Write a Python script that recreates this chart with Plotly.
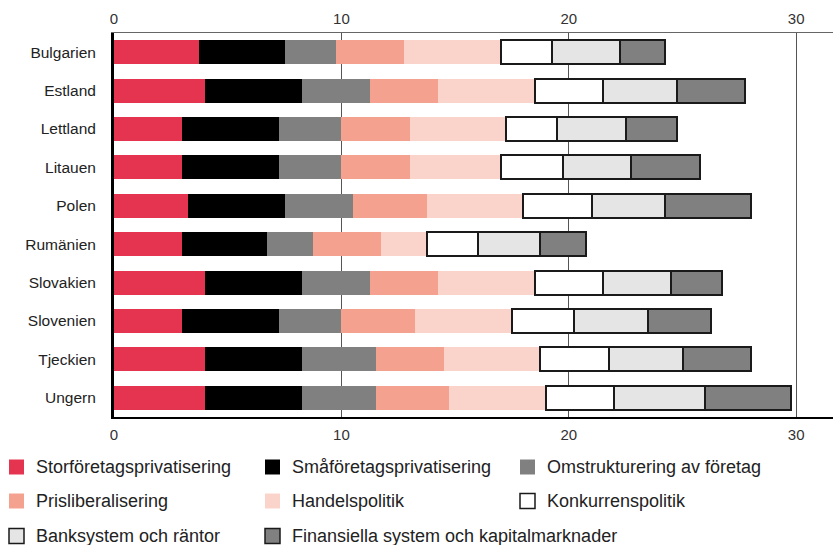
import plotly.graph_objects as go

# Reform indicators per country, stacked by policy area
countries = ["Bulgarien", "Estland", "Lettland", "Litauen", "Polen",
             "Rumänien", "Slovakien", "Slovenien", "Tjeckien", "Ungern"]

series_names = [
    "Storföretagsprivatisering",
    "Småföretagsprivatisering",
    "Omstrukturering av företag",
    "Prisliberalisering",
    "Handelspolitik",
    "Konkurrenspolitik",
    "Banksystem och räntor",
    "Finansiella system och kapitalmarknader",
]

stor = [3.75, 4.0, 3.0, 3.0, 3.25, 3.0, 4.0, 3.0, 4.0, 4.0]
sma = [3.75, 4.25, 4.25, 4.25, 4.25, 3.75, 4.25, 4.25, 4.25, 4.25]
omstr = [2.25, 3.0, 2.75, 2.75, 3.0, 2.0, 3.0, 2.75, 3.25, 3.25]
pris = [3.0, 3.0, 3.0, 3.0, 3.25, 3.0, 3.0, 3.25, 3.0, 3.25]
handel = [4.25, 4.25, 4.25, 4.0, 4.25, 2.0, 4.25, 4.25, 4.25, 4.25]
konk = [2.25, 3.0, 2.25, 2.75, 3.0, 2.25, 3.0, 2.75, 3.0, 3.0]
bank = [3.0, 3.25, 3.0, 3.0, 3.25, 2.75, 3.0, 3.25, 3.25, 4.0]
fin = [2.0, 3.0, 2.25, 3.0, 3.75, 2.0, 2.25, 2.75, 3.0, 3.75]

series_values = [stor, sma, omstr, pris, handel, konk, bank, fin]

fill_colors = ["#E4344F", "#000000", "#808080", "#F4A190",
               "#FAD3CA", "#FFFFFF", "#E5E5E5", "#808080"]
outlined = [False, False, False, False, False, True, True, True]

x_ticks = [0, 10, 20, 30]

W, H = 833, 545
ML, MR, MT, MB = 114, 0, 33, 128
PW, PH = W - ML - MR, H - MT - MB
FONT = "Liberation Sans, Arial, sans-serif"

fig = go.Figure()

for name, vals, col, edge in zip(series_names, series_values, fill_colors, outlined):
    fig.add_trace(go.Bar(
        y=countries, x=vals, name=name, orientation="h",
        marker=dict(color=col,
                    line=dict(color="#1a1a1a" if edge else col,
                              width=2 if edge else 0)),
        showlegend=False, hoverinfo="x+name",
    ))

# invisible companion trace so the top axis is rendered
fig.add_trace(go.Scatter(x=[0], y=[countries[0]], xaxis="x2", mode="markers",
                         marker=dict(opacity=0), showlegend=False, hoverinfo="skip"))

x_max = PW / 22.74

fig.update_layout(
    width=W, height=H,
    margin=dict(l=ML, r=MR, t=MT, b=MB, pad=0),
    barmode="stack", bargap=0.375,
    plot_bgcolor="white", paper_bgcolor="white",
    font=dict(family=FONT, size=15, color="#222"),
    xaxis=dict(range=[0, x_max], tickvals=x_ticks, showgrid=True,
               gridcolor="#555555", gridwidth=1, zeroline=False,
               showline=True, linecolor="#000000", linewidth=2,
               ticks="", ticklabelstandoff=3,
               tickfont=dict(size=15, color="#333")),
    xaxis2=dict(overlaying="x", side="top", matches="x", range=[0, x_max],
                tickvals=x_ticks, showgrid=False, zeroline=False,
                showline=True, linecolor="#666666", linewidth=1,
                ticks="", ticklabelstandoff=2,
                tickfont=dict(size=15, color="#333")),
    yaxis=dict(categoryorder="array", categoryarray=countries,
               range=[len(countries) - 0.5, -0.5], showgrid=False,
               zeroline=False, showline=True, linecolor="#000000",
               linewidth=3, ticks="", ticklabelstandoff=12,
               tickfont=dict(size=15.5, color="#222")),
)

# Legend: three columns of swatches with labels beneath the chart
col_px = [9, 265, 520]
row_px = [467, 501, 536]
sw = 15
shapes = []
annotations = []
for i, (name, col, edge) in enumerate(zip(series_names, fill_colors, outlined)):
    cx = col_px[i % 3]
    cy = row_px[i // 3]
    x0 = (cx - ML) / PW
    x1 = (cx + sw - ML) / PW
    y0 = (H - MB - (cy + sw / 2)) / PH
    y1 = (H - MB - (cy - sw / 2)) / PH
    shapes.append(dict(type="rect", xref="paper", yref="paper",
                       x0=x0, x1=x1, y0=y0, y1=y1, fillcolor=col,
                       line=dict(color="#1a1a1a" if edge else col,
                                 width=1.5 if edge else 0)))
    annotations.append(dict(xref="paper", yref="paper",
                            x=(cx + sw + 10 - ML) / PW,
                            y=(H - MB - cy) / PH,
                            text=name, showarrow=False,
                            xanchor="left", yanchor="middle",
                            font=dict(size=18, color="#222", family=FONT)))

fig.update_layout(shapes=shapes, annotations=annotations)

fig.write_html("out.html")
